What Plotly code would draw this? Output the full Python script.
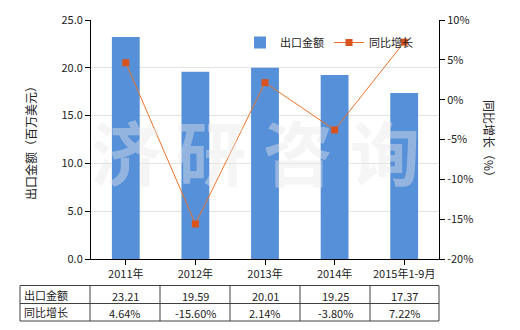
import plotly.graph_objects as go

categories = ["2011年", "2012年", "2013年", "2014年", "2015年1-9月"]
export_values = [23.21, 19.59, 20.01, 19.25, 17.37]
growth_values = [4.64, -15.60, 2.14, -3.80, 7.22]
left_ticks = [0, 5, 10, 15, 20, 25]
right_ticks = [-20, -15, -10, -5, 0, 5, 10]

W, H = 520, 330
L, R, T, B = 91, 439, 20, 259
FONT = "Noto Sans CJK SC"

def px(x):
    return (x - L) / (R - L)

def py(y):
    return (B - y) / (B - T)

fig = go.Figure()
fig.add_trace(go.Bar(x=categories, y=export_values, name="出口金额",
                     marker=dict(color="#5590D8", line=dict(width=0)), width=0.4))
fig.add_trace(go.Scatter(x=categories, y=growth_values, name="同比增长", yaxis="y2",
                         mode="lines+markers",
                         line=dict(color="#E8732A", width=1),
                         marker=dict(symbol="square", size=7, color="#D9531E")))

shapes = []
ann = []
# watermark
for ch, cx in zip("济研咨询", [126, 211, 298, 385]):
    ann.append(dict(text="<b>" + ch + "</b>", x=px(cx), y=py(150), xref="paper", yref="paper",
                    showarrow=False,
                    font=dict(family=FONT, size=70, color="rgba(230,230,230,0.42)"),
                    xanchor="center", yanchor="middle"))

# table
cols = [20, 90, 160, 230, 300, 370, 439]
rows = [285.5, 303.5, 321]
for yv in rows:
    shapes.append(dict(type="line", xref="paper", yref="paper", x0=px(cols[0]), x1=px(cols[-1]),
                       y0=py(yv), y1=py(yv), line=dict(color="#404040", width=1)))
for xv in cols:
    shapes.append(dict(type="line", xref="paper", yref="paper", x0=px(xv), x1=px(xv),
                       y0=py(rows[0]), y1=py(rows[-1]), line=dict(color="#404040", width=1)))
row_labels = ["出口金额", "同比增长"]
row_texts = [[f"{v:.2f}" for v in export_values], [f"{v:.2f}%" for v in growth_values]]
for r in range(2):
    yc = (rows[r] + rows[r + 1]) / 2
    ann.append(dict(text=row_labels[r], x=px(22), y=py(yc), xref="paper", yref="paper",
                    showarrow=False, xanchor="left", yanchor="middle",
                    font=dict(family=FONT, size=11, color="#222")))
    for i, t in enumerate(row_texts[r]):
        xc = (cols[i + 1] + cols[i + 2]) / 2
        ann.append(dict(text=t, x=px(xc), y=py(yc + 1), xref="paper", yref="paper",
                        showarrow=False, xanchor="center", yanchor="middle",
                        font=dict(family=FONT, size=11, color="#222")))

# axis titles
ann.append(dict(text="出口金额（百万美元）", x=px(30), y=py(140), xref="paper", yref="paper",
                showarrow=False, textangle=-90, xanchor="center", yanchor="middle",
                font=dict(family=FONT, size=12, color="#222")))
ann.append(dict(text="同比增长（%）", x=px(490), y=py(141), xref="paper", yref="paper",
                showarrow=False, textangle=90, xanchor="center", yanchor="middle",
                font=dict(family=FONT, size=12, color="#222")))

fig.update_layout(
    width=W, height=H,
    margin=dict(l=L, r=W - R, t=T, b=H - B, autoexpand=False),
    paper_bgcolor="white", plot_bgcolor="white",
    font=dict(family=FONT, size=11, color="#222"),
    showlegend=True,
    legend=dict(orientation="h", x=px(240), y=py(28), xanchor="left", yanchor="top",
                bgcolor="rgba(0,0,0,0)", font=dict(family=FONT, size=11, color="#222"),
                itemwidth=30, tracegroupgap=0),
    xaxis=dict(type="category", range=[-0.5, 4.5], showline=True, linecolor="#000", linewidth=1,
               ticks="outside", ticklen=5, tickcolor="#000", showgrid=False,
               tickfont=dict(family=FONT, size=11)),
    yaxis=dict(range=[0, 25], tickvals=left_ticks, tickformat=".1f", showline=True,
               linecolor="#000", linewidth=1, ticks="outside", ticklen=5, tickcolor="#000",
               showgrid=True, gridcolor="#e3e3e3", zeroline=False),
    yaxis2=dict(range=[-20, 10], tickmode="array", tickvals=right_ticks,
                ticktext=[f"{v}%" for v in right_ticks], overlaying="y",
                side="right", showline=True, linecolor="#000", linewidth=1, ticks="outside",
                ticklen=5, tickcolor="#000", showgrid=False, zeroline=False),
    shapes=shapes, annotations=ann,
)

fig.write_html("out.html")
